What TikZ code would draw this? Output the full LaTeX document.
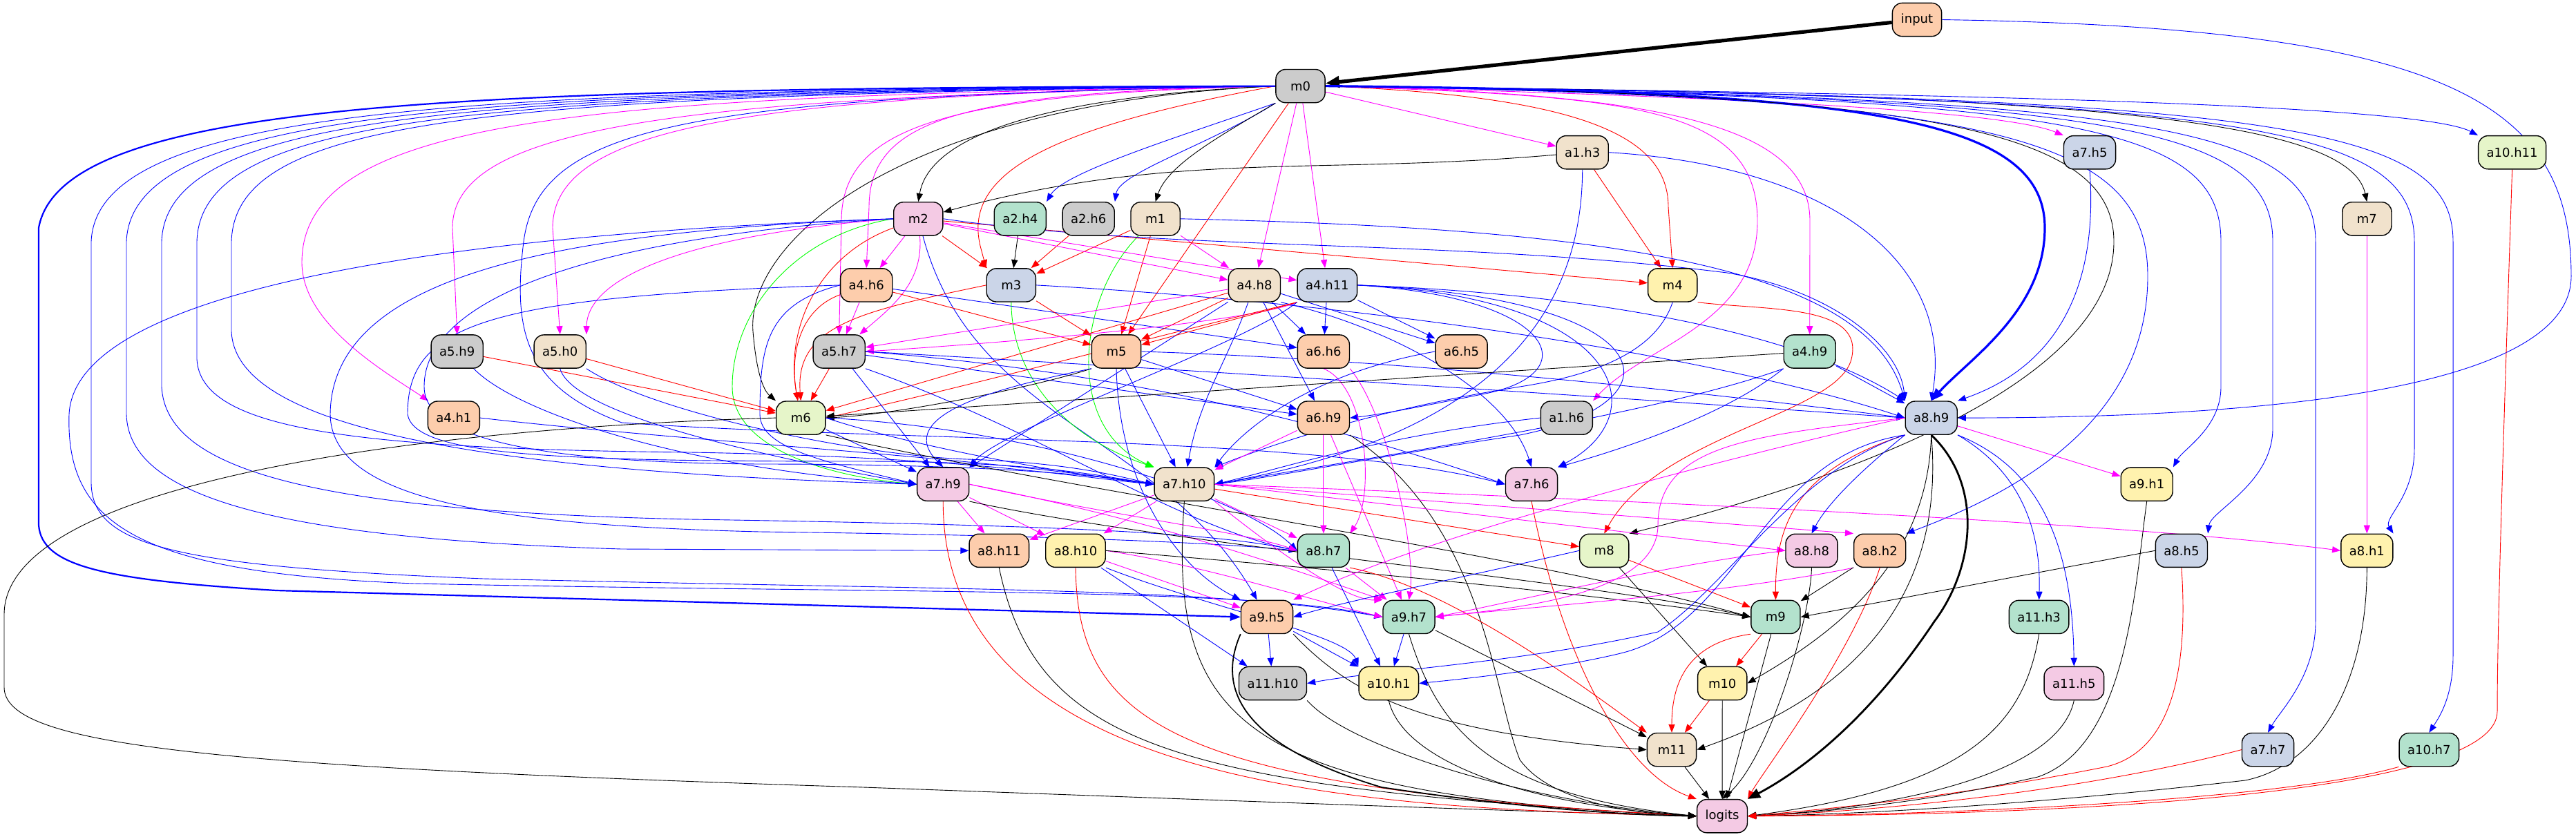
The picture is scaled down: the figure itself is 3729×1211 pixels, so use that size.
\documentclass[tikz,border=0pt]{standalone}
\usepackage{fontspec}
\newfontfamily\nodefont{DejaVu Sans}
\usetikzlibrary{arrows.meta}
\definecolor{cO}{HTML}{FDCDAC}
\definecolor{cG}{HTML}{B3E2CD}
\definecolor{cB}{HTML}{CBD5E8}
\definecolor{cP}{HTML}{F4CAE4}
\definecolor{cL}{HTML}{E6F5C9}
\definecolor{cY}{HTML}{FFF2AE}
\definecolor{cT}{HTML}{F1E2CC}
\definecolor{cK}{HTML}{CCCCCC}
\definecolor{eblue}{HTML}{0000FF}
\definecolor{emag}{HTML}{FF00FF}
\definecolor{ered}{HTML}{FF0000}
\definecolor{egreen}{HTML}{00FF00}
\pgfdeclarelayer{edgelayer}
\pgfsetlayers{edgelayer,main}
\tikzset{
  nd/.style={draw=black, line width=0.7pt, rounded corners=7pt, minimum width=35.6pt, minimum height=24.1pt, inner xsep=6pt, inner ysep=1pt, font=\nodefont\fontsize{9}{11}\selectfont, text=black},
  tipS/.style={-{Triangle[length=6pt,width=4.6pt]}},
  eB/.style={draw=eblue, line width=0.45pt, tipS},
  eM/.style={draw=emag, line width=0.45pt, tipS},
  eR/.style={draw=ered, line width=0.45pt, tipS},
  eK/.style={draw=black, line width=0.45pt, tipS},
  eG/.style={draw=egreen, line width=0.45pt, tipS},
}
\begin{document}
\begin{tikzpicture}[x=0.5pt,y=0.5pt]
\useasboundingbox (0,0) rectangle (3729,-1211);
% nodes
\node[nd,fill=cO] (input) at (2775,-28.5) {input};
\node[nd,fill=cK] (m0) at (1882.5,-124.6) {m0};
\node[nd,fill=cT] (a1h3) at (2290.7,-220.7) {a1.h3};
\node[nd,fill=cB] (a7h5) at (3025,-220.7) {a7.h5};
\node[nd,fill=cL] (a10h11) at (3636.6,-220.7) {a10.h11};
\node[nd,fill=cP] (m2) at (1329.3,-316.8) {m2};
\node[nd,fill=cG] (a2h4) at (1476.8,-316.8) {a2.h4};
\node[nd,fill=cK] (a2h6) at (1575.7,-316.8) {a2.h6};
\node[nd,fill=cT] (m1) at (1672.6,-316.8) {m1};
\node[nd,fill=cT] (m7) at (3426.3,-316.8) {m7};
\node[nd,fill=cO] (a4h6) at (1254.2,-412.9) {a4.h6};
\node[nd,fill=cB] (m3) at (1463.8,-412.9) {m3};
\node[nd,fill=cT] (a4h8) at (1815.9,-412.9) {a4.h8};
\node[nd,fill=cB] (a4h11) at (1921.4,-412.9) {a4.h11};
\node[nd,fill=cY] (m4) at (2421.2,-412.9) {m4};
\node[nd,fill=cK] (a5h9) at (661.7,-509) {a5.h9};
\node[nd,fill=cT] (a5h0) at (810.7,-509) {a5.h0};
\node[nd,fill=cK] (a5h7) at (1214.7,-509) {a5.h7};
\node[nd,fill=cO] (m5) at (1616,-509) {m5};
\node[nd,fill=cO] (a6h6) at (1915.9,-509) {a6.h6};
\node[nd,fill=cO] (a6h5) at (2115.6,-509) {a6.h5};
\node[nd,fill=cG] (a4h9) at (2619.7,-509) {a4.h9};
\node[nd,fill=cO] (a4h1) at (656.9,-605.1) {a4.h1};
\node[nd,fill=cL] (m6) at (1159.3,-605.1) {m6};
\node[nd,fill=cO] (a6h9) at (1915.9,-605.1) {a6.h9};
\node[nd,fill=cK] (a1h6) at (2267.8,-605.1) {a1.h6};
\node[nd,fill=cB] (a8h9) at (2795.7,-605.1) {a8.h9};
\node[nd,fill=cP] (a7h9) at (1365.2,-701.2) {a7.h9};
\node[nd,fill=cT] (a7h10) at (1714.4,-701.2) {a7.h10};
\node[nd,fill=cP] (a7h6) at (2217,-701.2) {a7.h6};
\node[nd,fill=cY] (a9h1) at (3107.7,-701.2) {a9.h1};
\node[nd,fill=cO] (a8h11) at (1446.3,-797.3) {a8.h11};
\node[nd,fill=cY] (a8h10) at (1557,-797.3) {a8.h10};
\node[nd,fill=cG] (a8h7) at (1915.9,-797.3) {a8.h7};
\node[nd,fill=cL] (m8) at (2322.2,-797.3) {m8};
\node[nd,fill=cP] (a8h8) at (2622.5,-797.3) {a8.h8};
\node[nd,fill=cO] (a8h2) at (2721.2,-797.3) {a8.h2};
\node[nd,fill=cB] (a8h5) at (3157.9,-797.3) {a8.h5};
\node[nd,fill=cY] (a8h1) at (3426.3,-797.3) {a8.h1};
\node[nd,fill=cO] (a9h5) at (1834,-893.4) {a9.h5};
\node[nd,fill=cG] (a9h7) at (2039.5,-893.4) {a9.h7};
\node[nd,fill=cG] (m9) at (2570.4,-893.4) {m9};
\node[nd,fill=cG] (a11h3) at (2951.6,-893.4) {a11.h3};
\node[nd,fill=cK] (a11h10) at (1842.5,-989.5) {a11.h10};
\node[nd,fill=cY] (a10h1) at (2010.3,-989.5) {a10.h1};
\node[nd,fill=cY] (m10) at (2493.2,-989.5) {m10};
\node[nd,fill=cP] (a11h5) at (3002.3,-989.5) {a11.h5};
\node[nd,fill=cT] (m11) at (2420,-1085.6) {m11};
\node[nd,fill=cB] (a7h7) at (3283,-1085.6) {a7.h7};
\node[nd,fill=cG] (a10h7) at (3516.3,-1085.6) {a10.h7};
\node[nd,fill=cP] (logits) at (2493,-1181.7) {logits};

\begin{pgfonlayer}{edgelayer}
% input
\draw[eK, line width=2.6pt, -{Triangle[length=10pt,width=8pt]}] (input) -- (m0);
\draw[eB] (input.east) .. controls (3550,-40) and (3722,-150) .. (3722,-400) .. controls (3722,-560) and (3300,-605) .. (a8h9.east);
% m0 near
\draw[eK] (m0.west) .. controls (1500,-140) and (1345,-200) .. (m2.north);
\draw[eB] (m0.south west) .. controls (1700,-200) and (1540,-250) .. (a2h4.north east);
\draw[eB] (m0.south west) .. controls (1750,-210) and (1620,-250) .. (a2h6.north east);
\draw[eK] (m0.south west) .. controls (1760,-200) and (1690,-240) .. (m1.north);
\draw[eM] (m0) -- (a1h3);
\draw[eR] (m0.west) .. controls (1520,-185) and (1390,-250) .. (1420,-360) -- (m3.north west);
\draw[eM] (m0.west) .. controls (1400,-133) and (1258,-170) .. (1258,-300) -- (a4h6.north);
\draw[eM] (m0.west) .. controls (1380,-136) and (1218,-180) .. (1218,-320) -- (a5h7.north);
\draw[eM] (m0.west) .. controls (1100,-138) and (800,-180) .. (800,-330) -- (a5h0.north);
\draw[eM] (m0.west) .. controls (1000,-140) and (655,-180) .. (655,-330) -- (a5h9.north);
\draw[eM] (m0.west) .. controls (900,-140) and (437,-160) .. (437,-380) .. controls (437,-470) and (560,-540) .. (a4h1);
\draw[eK] (m0.west) .. controls (1300,-150) and (1080,-350) .. (1090,-480) .. controls (1095,-540) and (1105,-565) .. (m6.north west);
\draw[eM] (m0) -- (a4h8);
\draw[eM] (m0) -- (a4h11);
\draw[eR] (m0) -- (m5);
\draw[eR] (m0.east) .. controls (2300,-140) and (2415,-200) .. (2415,-300) -- (m4.north);
\draw[eM] (m0.east) .. controls (2400,-135) and (2620,-180) .. (2620,-320) -- (a4h9.north);
\draw[eM] (m0.east) .. controls (2350,-140) and (2544,-150) .. (2544,-320) .. controls (2544,-470) and (2380,-500) .. (a1h6.north east);
\draw[eM] (m0.east) .. controls (2500,-140) and (2900,-160) .. (a7h5.north west);
\draw[eB] (m0.east) .. controls (2800,-135) and (3500,-150) .. (a10h11.north west);
\draw[eK] (m0.east) .. controls (3000,-135) and (3400,-170) .. (m7.north);
\draw[eB, line width=1.6pt, -{Triangle[length=9pt,width=7pt]}] (m0.east) .. controls (2700,-132) and (2960,-170) .. (2960,-330) .. controls (2960,-450) and (2850,-520) .. (a8h9.north);
% m0 right verticals
\draw[eK] (m0.east) .. controls (2800,-135) and (3060,-190) .. (3060,-350) .. controls (3060,-560) and (2650,-700) .. (m8.north east);
\draw[eB] (m0.east) .. controls (2900,-140) and (3109,-200) .. (3109,-400) .. controls (3109,-620) and (2900,-720) .. (a8h2.north east);
\draw[eB] (m0.east) .. controls (3000,-140) and (3215,-180) .. (3215,-350) -- (3215,-560) .. controls (3215,-620) and (3160,-650) .. (a9h1.north east);
\draw[eB] (m0.east) .. controls (3050,-140) and (3290,-180) .. (3290,-350) -- (3290,-620) .. controls (3290,-700) and (3200,-740) .. (a8h5.north east);
\draw[eB] (m0.east) .. controls (3100,-140) and (3352,-180) .. (3352,-350) -- (3352,-900) .. controls (3352,-980) and (3300,-1030) .. (a7h7.north);
\draw[eB] (m0.east) .. controls (3250,-140) and (3495,-180) .. (3495,-350) -- (3495,-650) .. controls (3495,-720) and (3450,-750) .. (a8h1.north east);
\draw[eB] (m0.east) .. controls (3300,-140) and (3551,-180) .. (3551,-350) -- (3551,-950) .. controls (3551,-1010) and (3530,-1040) .. (a10h7.north);
% m0 left loops
\draw[eB, line width=1.1pt, -{Triangle[length=7.5pt,width=5.8pt]}] (m0.west) .. controls (700,-128) and (90,-140) .. (56,-330) -- (56,-760) .. controls (60,-820) and (150,-840) .. (400,-855) -- (a9h5.west);
\draw[eB] (m0.west) .. controls (700,-130) and (140,-150) .. (132,-350) -- (132,-700) .. controls (134,-790) and (250,-820) .. (700,-838) .. controls (1400,-855) and (1750,-850) .. (a9h7.west);
\draw[eB] (m0.west) .. controls (700,-132) and (190,-155) .. (183,-350) -- (183,-600) .. controls (186,-720) and (400,-780) .. (900,-795) -- (a8h11.west);
\draw[eB] (m0.west) .. controls (700,-134) and (240,-160) .. (234,-350) -- (234,-560) .. controls (240,-680) and (450,-740) .. (1000,-752) .. controls (1500,-760) and (1750,-770) .. (a8h7.west);
\draw[eB] (m0.west) .. controls (700,-136) and (290,-165) .. (285,-350) -- (285,-520) .. controls (290,-620) and (500,-650) .. (1000,-655) .. controls (1400,-662) and (1550,-690) .. (a7h10.west);
\draw[eB] (m0.west) .. controls (700,-138) and (340,-170) .. (335,-350) -- (335,-480) .. controls (340,-600) and (600,-680) .. (a7h9.west);
\draw[eB] (m0.west) .. controls (1000,-140) and (780,-180) .. (758,-350) .. controls (742,-480) and (760,-560) .. (900,-612) .. controls (1300,-640) and (1900,-630) .. (a7h6.west);
% a1h3, a7h5, m1, a2
\draw[eK] (a1h3) to[out=185,in=15] (m2);
\draw[eR] (a1h3) -- (m4);
\draw[eB] (a1h3.east) .. controls (2650,-240) and (2830,-380) .. (a8h9.north);
\draw[eB] (a1h3.south) .. controls (2290,-500) and (2100,-640) .. (a7h10.east);
\draw[eB] (a7h5.south) .. controls (3040,-450) and (2950,-540) .. (a8h9.north east);
\draw[eB] (m1.east) .. controls (2300,-330) and (2700,-380) .. (a8h9.north west);
\draw[eR] (m1) -- (m3);
\draw[eR] (m1) -- (m5);
\draw[eM] (m1) -- (a4h8);
\draw[eG] (m1) .. controls (1560,-430) and (1540,-620) .. (a7h10.north west);
\draw[eK] (a2h4) -- (m3);
\draw[eR] (a2h6) -- (m3);
\draw[eM] (m7) -- (a8h1);
% m2
\draw[eR] (m2) -- (m3);
\draw[eM] (m2) -- (a4h6);
\draw[eM] (m2) to[out=-85,in=40] (a5h7);
\draw[eM] (m2) -- (a4h8);
\draw[eM] (m2) -- (a4h11);
\draw[eR] (m2) -- (m4);
\draw[eM] (m2.west) .. controls (1000,-340) and (850,-400) .. (a5h0.north east);
\draw[eR] (m2) to[out=200,in=100] (m6);
\draw[eB] (m2.east) .. controls (1700,-365) and (2100,-345) .. (2500,-395) .. controls (2650,-420) and (2750,-500) .. (a8h9.north west);
\draw[eB] (m2) to[out=-75,in=120] (a9h5);
\draw[eG] (m2.west) .. controls (1150,-340) and (1060,-450) .. (1060,-560) .. controls (1060,-650) and (1200,-690) .. (a7h9.west);
\draw[eB] (m2.west) .. controls (900,-330) and (110,-380) .. (100,-600) .. controls (95,-760) and (200,-830) .. (600,-845) .. controls (1300,-860) and (1800,-850) .. (a9h7.west);
\draw[eB] (m2.west) .. controls (800,-335) and (480,-400) .. (478,-600) .. controls (480,-720) and (700,-760) .. (1100,-770) .. controls (1500,-775) and (1750,-785) .. (a8h7.west);
\draw[eB] (m2.west) .. controls (900,-340) and (614,-420) .. (614,-560) .. controls (614,-640) and (800,-670) .. (1100,-672) .. controls (1450,-672) and (1600,-690) .. (a7h10.west);
% a4h6
\draw[eM] (a4h6) -- (a5h7);
\draw[eR] (a4h6) -- (m5);
\draw[eR] (a4h6) to[out=200,in=100] (m6);
\draw[eB] (a4h6) -- (a6h6);
\draw[eB] (a4h6.west) .. controls (1110,-440) and (1100,-500) .. (1100,-600) .. controls (1100,-650) and (1200,-670) .. (a7h9.west);
\draw[eB] (a4h6.west) .. controls (700,-430) and (590,-470) .. (590,-600) .. controls (600,-660) and (800,-668) .. (1250,-668) .. controls (1500,-668) and (1600,-690) .. (a7h10.west);
% m3
\draw[eR] (m3) -- (m5);
\draw[eR] (m3.west) .. controls (1250,-450) and (1150,-470) .. (m6.north);
\draw[eG] (m3.south) .. controls (1465,-560) and (1560,-640) .. (a7h10.north west);
\draw[eB] (m3.east) .. controls (2000,-440) and (2500,-520) .. (a8h9.west);
% a4h8
\draw[eM] (a4h8) -- (a5h7);
\draw[eR] (a4h8) -- (m5);
\draw[eR] (a4h8) -- (m6);
\draw[eB] (a4h8) -- (a6h6);
\draw[eB] (a4h8) -- (a6h9);
\draw[eB] (a4h8) to[out=-110,in=80] (a7h10);
\draw[eB] (a4h8) -- (a7h9);
\draw[eB] (a4h8) -- (a6h5);
\draw[eB] (a4h8.south east) .. controls (2000,-470) and (2180,-560) .. (a7h6.north);
% a4h11
\draw[eM] (a4h11.south west) .. controls (1800,-470) and (1400,-500) .. (a5h7.east);
\draw[eR] (a4h11.south west) -- (m5);
\draw[eR] (a4h11.south west) .. controls (1700,-480) and (1400,-560) .. (m6.east);
\draw[eB] (a4h11) -- (a6h6);
\draw[eB] (a4h11) -- (a6h5);
\draw[eB] (a4h11.east) .. controls (2250,-430) and (2300,-540) .. (2150,-570) .. controls (2050,-590) and (2000,-600) .. (a6h9.east);
\draw[eB] (a4h11.east) .. controls (2400,-430) and (2450,-580) .. (2200,-630) .. controls (2000,-660) and (1850,-690) .. (a7h10.east);
\draw[eB] (a4h11.south west) .. controls (1800,-500) and (1450,-620) .. (a7h9.north east);
\draw[eB] (a4h11.east) .. controls (2350,-430) and (2400,-600) .. (a7h6.north east);
\draw[eB] (a4h11.east) .. controls (2300,-425) and (2600,-480) .. (a8h9.north west);
% m4
\draw[eR] (m4.south east) .. controls (2560,-450) and (2700,-440) .. (2680,-520) .. controls (2660,-600) and (2400,-630) .. (m8.north);
\draw[eB] (m4.south) .. controls (2400,-500) and (2330,-540) .. (2200,-560) .. controls (1950,-600) and (1800,-660) .. (a7h10.north east);
% a5 row
\draw[eR] (a5h9) -- (m6);
\draw[eB] (a5h9) .. controls (750,-600) and (1000,-680) .. (a7h9.west);
\draw[eR] (a5h0) -- (m6);
\draw[eB] (a5h0.south) .. controls (830,-600) and (1100,-660) .. (a7h9.west);
\draw[eB] (a5h0.south east) .. controls (950,-600) and (1250,-660) .. (1400,-665) .. controls (1550,-670) and (1620,-690) .. (a7h10.west);
\draw[eB] (a4h1.east) .. controls (1000,-640) and (1400,-660) .. (a7h10.west);
\draw[eR] (a5h7) -- (m6);
\draw[eB] (a5h7) -- (a7h9);
\draw[eB] (a5h7.east) .. controls (1700,-545) and (2000,-640) .. (a7h6.west);
\draw[eB] (a5h7.east) .. controls (1800,-540) and (2400,-580) .. (a8h9.west);
\draw[eB] (a5h7.south east) .. controls (1500,-620) and (1700,-760) .. (a8h7.west);
\draw[eB] (a5h7) -- (a6h9);
% m5
\draw[eK] (m5.south west) .. controls (1500,-560) and (1300,-600) .. (m6.east);
\draw[eB] (m5.south west) .. controls (1450,-560) and (1290,-600) .. (a7h9.north);
\draw[eB] (m5) -- (a7h10);
\draw[eB] (m5) -- (a6h9);
\draw[eB] (m5.south) .. controls (1620,-700) and (1700,-820) .. (a9h5.north west);
\draw[eB] (m5.east) .. controls (2000,-520) and (2400,-560) .. (a8h9.west);
% a6
\draw[eM] (a6h6.south) .. controls (1980,-560) and (1990,-720) .. (a8h7.north east);
\draw[eM] (a6h6.south east) .. controls (2010,-600) and (2050,-800) .. (a9h7.north);
\draw[eB] (a6h5.west) .. controls (1900,-540) and (1800,-620) .. (a7h10.north east);
% a4h9, a1h6
\draw[eK] (a4h9) -- (m6);
\draw[eB] (a4h9) -- (a8h9);
\draw[eB] (a4h9.south west) .. controls (2400,-600) and (2000,-660) .. (a7h10.east);
\draw[eB] (a4h9.south west) .. controls (2500,-600) and (2350,-650) .. (a7h6.north east);
\draw[eB] (a1h6.west) .. controls (2000,-630) and (1850,-680) .. (a7h10.east);
% m6
\draw[eK] (m6.west) .. controls (600,-620) and (6,-700) .. (6,-890) -- (6,-995) .. controls (6,-1080) and (300,-1110) .. (1250,-1140) .. controls (1800,-1160) and (2200,-1175) .. (logits.west);
\draw[eB] (m6) -- (a7h9);
\draw[eB] (m6.east) .. controls (1300,-640) and (1500,-680) .. (a7h10.west);
\draw[eB] (m6.east) .. controls (1500,-620) and (1800,-720) .. (a8h7.west);
\draw[eK] (m6.south east) .. controls (1600,-720) and (2200,-800) .. (m9.west);
% a6h9
\draw[eM] (a6h9) -- (a7h10);
\draw[eM] (a6h9) -- (a8h7);
\draw[eM] (a6h9) -- (a9h7);
\draw[eK] (a6h9.south east) .. controls (2150,-760) and (2160,-1000) .. (2200,-1100) .. controls (2250,-1170) and (2400,-1180) .. (logits.west);
% a7h9
\draw[eM] (a7h9) -- (a8h11);
\draw[eM] (a7h9) -- (a8h10);
\draw[eM] (a7h9.east) .. controls (1600,-745) and (1800,-770) .. (a8h7.west);
\draw[eM] (a7h9.east) .. controls (1650,-750) and (1800,-800) .. (a9h7.north west);
\draw[eR] (a7h9.south) .. controls (1365,-1150) and (2000,-1170) .. (logits.west);
\draw[eK] (a7h9.south east) .. controls (1700,-790) and (2300,-840) .. (m9.west);
% a7h10
\draw[eM] (a7h10) -- (a8h11);
\draw[eM] (a7h10) -- (a8h10);
\draw[eM] (a7h10) -- (a8h7);
\draw[eM] (a7h10.south east) .. controls (1850,-800) and (1950,-870) .. (a9h7.north west);
\draw[eR] (a7h10) -- (m8);
\draw[eM] (a7h10.east) -- (a8h8.west);
\draw[eM] (a7h10.east) -- (a8h2.north west);
\draw[eM] (a7h10.east) .. controls (2500,-730) and (3100,-760) .. (a8h1.west);
\draw[eK] (a7h10.south) .. controls (1690,-1050) and (1800,-1150) .. (logits.west);
\draw[eR] (a7h6.south) .. controls (2260,-950) and (2350,-1120) .. (logits.north west);
% row 7
\draw[eK] (a8h11.south) .. controls (1500,-1080) and (1700,-1140) .. (logits.west);
\draw[eR] (a8h10.south) .. controls (1560,-1050) and (1700,-1140) .. (logits.west);
\draw[eM] (a8h10) -- (a9h5);
\draw[eM] (a8h10.east) .. controls (1750,-820) and (1900,-870) .. (a9h7.west);
\draw[eB] (a8h10.south east) .. controls (1750,-880) and (1950,-920) .. (a10h1.north west);
\draw[eB] (a8h10) -- (a11h10);
\draw[eK] (a8h10.east) .. controls (2000,-830) and (2300,-860) .. (m9.west);
\draw[eM] (a8h7) -- (a9h7);
\draw[eB] (a8h7) -- (a10h1);
\draw[eR] (a8h7.south east) .. controls (2100,-850) and (2300,-1000) .. (m11.north west);
\draw[eR] (m8) -- (m9);
\draw[eK] (m8) -- (m10);
\draw[eB] (m8.west) .. controls (2100,-840) and (1950,-870) .. (a9h5.east);
\draw[eM] (a8h8.west) .. controls (2400,-820) and (2200,-870) .. (a9h7.east);
\draw[eK] (a8h8.south) .. controls (2620,-900) and (2560,-1100) .. (logits.north);
\draw[eM] (a8h2.south west) .. controls (2500,-860) and (2200,-880) .. (a9h7.east);
\draw[eK] (a8h2) -- (m9);
\draw[eR] (a8h2.south) .. controls (2680,-950) and (2550,-1120) .. (logits.north east);
\draw[eK] (a8h5.west) -- (m9.east);
\draw[eR] (a8h5.south) .. controls (3170,-1000) and (3130,-1090) .. (3050,-1110) .. controls (2800,-1160) and (2600,-1175) .. (logits.east);
\draw[eK] (a8h1.south) .. controls (3426,-1000) and (3350,-1110) .. (3250,-1130) .. controls (2900,-1170) and (2650,-1180) .. (logits.east);
\draw[eK] (a9h1.south) .. controls (3090,-850) and (3080,-1080) .. (2950,-1125) .. controls (2750,-1170) and (2600,-1178) .. (logits.east);
\draw[eK] (a11h3.south) .. controls (2930,-1050) and (2850,-1140) .. (logits.east);
\draw[eK] (a11h5.south) .. controls (2980,-1120) and (2750,-1170) .. (logits.east);
\draw[eR] (a7h7.west) .. controls (3000,-1150) and (2700,-1175) .. (logits.east);
\draw[eR] (a10h7.south west) .. controls (3300,-1160) and (2800,-1180) .. (logits.east);
\draw[eR] (a10h11.south) .. controls (3625,-600) and (3615,-900) .. (3615,-1030) .. controls (3615,-1150) and (3000,-1180) .. (logits.east);
% a8h9 out
\draw[eK, line width=1.4pt, -{Triangle[length=9pt,width=7pt]}] (a8h9.south) .. controls (2870,-700) and (2860,-820) .. (2800,-900) .. controls (2700,-1050) and (2600,-1120) .. (logits.north east);
\draw[eM] (a8h9) -- (a9h1);
\draw[eB] (a8h9.south east) .. controls (2920,-680) and (2955,-760) .. (a11h3.north);
\draw[eB] (a8h9.south east) .. controls (2960,-680) and (3000,-800) .. (a11h5.north);
\draw[eB] (a8h9.south west) .. controls (2720,-660) and (2650,-720) .. (a8h8.north);
\draw[eR] (a8h9.south west) .. controls (2600,-680) and (2570,-760) .. (m9.north);
\draw[eM] (a8h9.west) .. controls (2600,-640) and (2100,-760) .. (a9h5.north east);
\draw[eM] (a8h9.west) .. controls (2550,-630) and (2400,-640) .. (2400,-760) .. controls (2400,-860) and (2200,-880) .. (a9h7.east);
\draw[eB] (a8h9.south west) .. controls (2550,-660) and (2520,-900) .. (2350,-945) .. controls (2250,-970) and (2100,-985) .. (a10h1.east);
\draw[eB] (a8h9.south west) .. controls (2600,-680) and (2500,-850) .. (2400,-915) .. controls (2200,-960) and (2000,-970) .. (a11h10.east);
\draw[eK] (a8h9.south) .. controls (2790,-820) and (2650,-920) .. (m10.east);
\draw[eK] (a8h9.south) .. controls (2815,-850) and (2700,-1000) .. (m11.east);
% lower
\draw[eR] (m9) -- (m10);
\draw[eR] (m9.south west) .. controls (2450,-930) and (2420,-980) .. (m11.north);
\draw[eK] (m9) -- (logits);
\draw[eR] (m10) -- (m11);
\draw[eK] (m10) -- (logits);
\draw[eK] (m11) -- (logits);
\draw[eB] (a9h5) -- (a11h10);
\draw[eB] (a9h5) -- (a10h1);
\draw[eK] (a9h5.south east) .. controls (1950,-1000) and (2050,-1060) .. (m11.west);
\draw[eK, line width=0.9pt] (a9h5.south west) .. controls (1760,-1000) and (1800,-1080) .. (2000,-1140) .. controls (2200,-1170) and (2350,-1180) .. (logits.west);
\draw[eB] (a9h7) -- (a10h1);
\draw[eK] (a9h7) -- (m11);
\draw[eK] (a9h7.south) .. controls (2080,-1050) and (2150,-1150) .. (logits.west);
\draw[eK] (a11h10.south east) .. controls (1950,-1080) and (2200,-1160) .. (logits.west);
\draw[eK] (a10h1.south) .. controls (2030,-1100) and (2200,-1165) .. (logits.west);
\end{pgfonlayer}
\end{tikzpicture}
\end{document}
